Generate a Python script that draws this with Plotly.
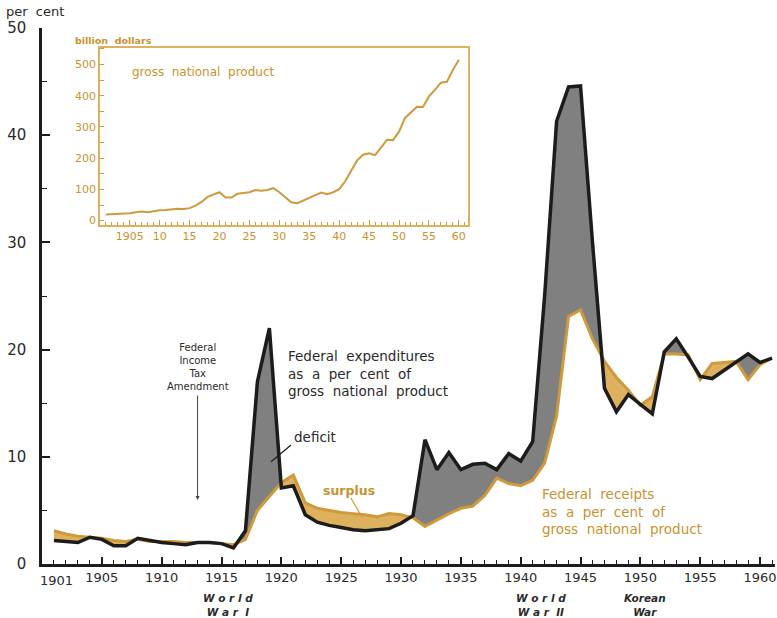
import plotly.graph_objects as go
import numpy as np

# ---------------- data ----------------
years = list(range(1901, 1962))
expenditures = [2.2, 2.1, 2.0, 2.5, 2.3, 1.7, 1.7, 2.4, 2.2, 2.0,
                1.9, 1.8, 2.0, 2.0, 1.9, 1.5, 3.1, 17.0, 22.0, 7.1,
                7.3, 4.6, 3.9, 3.6, 3.4, 3.2, 3.1, 3.2, 3.3, 3.8,
                4.5, 11.6, 8.8, 10.4, 8.8, 9.3, 9.4, 8.8, 10.3, 9.6,
                11.4, 25.0, 41.3, 44.5, 44.6, 30.0, 16.4, 14.2, 15.8, 14.9,
                14.0, 19.8, 21.0, 19.3, 17.5, 17.3, 18.1, 18.9, 19.6, 18.8,
                19.2]
receipts = [3.1, 2.8, 2.6, 2.5, 2.4, 2.2, 2.1, 2.3, 2.1, 2.1,
            2.1, 2.0, 2.0, 2.0, 1.9, 1.8, 2.3, 5.0, 6.3, 7.6,
            8.3, 5.7, 5.2, 5.0, 4.8, 4.7, 4.6, 4.4, 4.7, 4.6,
            4.3, 3.5, 4.1, 4.7, 5.2, 5.4, 6.4, 8.0, 7.5, 7.3,
            7.8, 9.4, 13.8, 23.1, 23.7, 21.0, 18.9, 17.4, 16.2, 14.8,
            15.6, 19.6, 19.6, 19.5, 17.2, 18.7, 18.8, 18.9, 17.2, 18.6,
            19.2]

gnp_years = list(range(1901, 1961))
gnp = [20, 21, 22, 22, 24, 27, 29, 27, 31, 33,
       34, 37, 38, 37, 40, 48, 60, 76, 84, 91,
       74, 74, 86, 88, 91, 98, 96, 98, 104, 91,
       76, 59, 56, 65, 73, 83, 90, 85, 91, 101,
       126, 160, 193, 211, 216, 210, 233, 259, 258, 285,
       329, 347, 365, 364, 398, 419, 442, 445, 483, 515]

main_tick_vals = [1905, 1910, 1915, 1920, 1925, 1930, 1935, 1940, 1945, 1950, 1955, 1960]
main_tick_text = [str(v) for v in main_tick_vals]
inset_tick_vals = main_tick_vals
inset_tick_text = ["1905", "10", "15", "20", "25", "30", "35", "40", "45", "50", "55", "60"]

# ---------------- styles ----------------
BLACK = "#1c1c1c"
GRAY = "#808080"
TAN_FILL = "#DDB15E"
TAN_LINE = "#CF9A3C"
TAN_TEXT = "#C8922E"
TEXT = "#2a2a2a"
FONT = "DejaVu Sans"

W, H = 777, 618
L, R, T, B = 42, 0, 28, 54
PW, PH = W - L - R, H - T - B


def px(x):
    return (x - L) / PW


def py(y):
    return (H - B - y) / PH


def split_at_crossings(x, a, b):
    xs, aa, bb = [x[0]], [a[0]], [b[0]]
    for i in range(len(x) - 1):
        d0 = a[i] - b[i]
        d1 = a[i + 1] - b[i + 1]
        if d0 * d1 < 0:
            t = d0 / (d0 - d1)
            xc = x[i] + t * (x[i + 1] - x[i])
            yc = a[i] + t * (a[i + 1] - a[i])
            xs.append(xc); aa.append(yc); bb.append(yc)
        xs.append(x[i + 1]); aa.append(a[i + 1]); bb.append(b[i + 1])
    return xs, np.array(aa), np.array(bb)


xs, ex, rc = split_at_crossings(years, expenditures, receipts)
top = np.maximum(ex, rc)

fig = go.Figure()
nol = dict(width=0)
# deficit (gray) between receipts and max
fig.add_trace(go.Scatter(x=xs, y=rc, mode="lines", line=nol, hoverinfo="skip", showlegend=False))
fig.add_trace(go.Scatter(x=xs, y=top, mode="lines", line=nol, fill="tonexty", fillcolor=GRAY,
                         hoverinfo="skip", showlegend=False))
# surplus (tan) between expenditures and max
fig.add_trace(go.Scatter(x=xs, y=ex, mode="lines", line=nol, hoverinfo="skip", showlegend=False))
fig.add_trace(go.Scatter(x=xs, y=top, mode="lines", line=nol, fill="tonexty", fillcolor=TAN_FILL,
                         hoverinfo="skip", showlegend=False))
# receipts line
fig.add_trace(go.Scatter(x=years, y=receipts, mode="lines", line=dict(color=TAN_LINE, width=3),
                         showlegend=False, name="receipts"))
# expenditures line
fig.add_trace(go.Scatter(x=years, y=expenditures, mode="lines", line=dict(color=BLACK, width=3.5),
                         showlegend=False, name="expenditures"))
# inset GNP
fig.add_trace(go.Scatter(x=gnp_years, y=gnp, mode="lines", xaxis="x2", yaxis="y2",
                         line=dict(color=TAN_LINE, width=2), showlegend=False, name="GNP"))

fig.update_layout(
    width=W, height=H,
    margin=dict(l=L, r=R, t=T, b=B),
    paper_bgcolor="white", plot_bgcolor="rgba(0,0,0,0)",
    font=dict(family=FONT, color=TEXT),
    showlegend=False,
    xaxis=dict(
        domain=[0, 1], range=[1900, 1961.25], showgrid=False, zeroline=False,
        showline=True, linecolor=BLACK, linewidth=2.5,
        tickmode="array", tickvals=main_tick_vals, ticktext=main_tick_text,
        ticks="inside", ticklen=7, tickwidth=2, tickcolor=BLACK,
        tickfont=dict(size=13, color=TEXT), ticklabeloverflow="allow",
        minor=dict(ticks="inside", ticklen=4, tickwidth=1.3, tickcolor=BLACK, tick0=1900, dtick=1),
    ),
    yaxis=dict(
        domain=[0, 1], range=[0, 50], showgrid=False, zeroline=False,
        showline=True, linecolor=BLACK, linewidth=2.5,
        tickmode="linear", tick0=0, dtick=10,
        ticks="inside", ticklen=8, tickwidth=2, tickcolor=BLACK,
        tickfont=dict(size=15, color=TEXT), ticklabelstandoff=10,
        minor=dict(ticks="inside", ticklen=5, tickwidth=1.3, tickcolor=BLACK, tick0=0, dtick=5),
    ),
    xaxis2=dict(
        domain=[px(100), px(469.3)], anchor="y2", range=[1900, 1961.55],
        showgrid=False, zeroline=False, showline=True, mirror=True,
        linecolor=TAN_FILL, linewidth=1.5,
        tickmode="array", tickvals=inset_tick_vals, ticktext=inset_tick_text,
        ticks="inside", ticklen=5, tickwidth=1.3, tickcolor=TAN_LINE,
        tickfont=dict(size=11, color=TAN_TEXT),
        minor=dict(ticks="inside", ticklen=3, tickwidth=1, tickcolor=TAN_LINE, tick0=1900, dtick=1),
    ),
    yaxis2=dict(
        domain=[py(225), py(47.7)], anchor="x2", range=[-14, 554],
        showgrid=False, zeroline=False, showline=True, mirror=True,
        linecolor=TAN_FILL, linewidth=1.5,
        tickmode="linear", tick0=0, dtick=100,
        ticks="inside", ticklen=4, tickwidth=1.3, tickcolor=TAN_LINE,
        tickfont=dict(size=11, color=TAN_TEXT),
        minor=dict(ticks="inside", ticklen=4, tickwidth=1, tickcolor=TAN_LINE, tick0=0, dtick=50),
    ),
)

ann = []


def text(x, y, s, size=13, color=TEXT, xanchor="left", yanchor="middle", align="left"):
    ann.append(dict(x=px(x), y=py(y), xref="paper", yref="paper", text=s, showarrow=False,
                    xanchor=xanchor, yanchor=yanchor, align=align,
                    font=dict(size=size, color=color, family=FONT)))


text(4, 11, "per  cent", size=13)
text(57, 580, "1901", size=13, xanchor="center")
text(73, 41, "<b>billion  dollars</b>", size=9.5, color=TAN_TEXT)
text(130, 72, "gross  national  product", size=12, color=TAN_TEXT)
text(198, 367, "Federal<br>Income<br>Tax<br>Amendment", size=10, xanchor="center", align="center")
text(287, 374, "Federal  expenditures<br>as  a  per  cent  of<br>gross  national  product", size=13.5)
text(293, 437, "deficit", size=13.5)
text(322, 490, "<b>surplus</b>", size=12.5, color=TAN_TEXT)
text(541, 511, "Federal  receipts<br>as  a  per  cent  of<br>gross  national  product", size=13.5,
     color=TAN_TEXT)
text(229, 605, "<b><i>W o r l d<br>W a r  I</i></b>", size=10.5, xanchor="center", align="center")
text(542, 605, "<b><i>W o r l d<br>W a r  II</i></b>", size=10.5, xanchor="center", align="center")
text(647, 605, "<b><i>Korean<br>War</i></b>", size=10.5, xanchor="center", align="center")

# arrow for the income tax amendment
ann.append(dict(x=px(198), y=py(500), xref="paper", yref="paper", text="", showarrow=True,
                ax=0, ay=-106, arrowhead=2, arrowsize=0.8, arrowwidth=1, arrowcolor="#444"))
fig.update_layout(annotations=ann)

fig.update_layout(shapes=[
    dict(type="line", xref="paper", yref="paper", x0=px(291.7), y0=py(445), x1=px(271.7), y1=py(461.7),
         line=dict(color=BLACK, width=1.2)),
    dict(type="line", xref="paper", yref="paper", x0=px(351.7), y0=py(498), x1=px(363.3), y1=py(518),
         line=dict(color=TAN_LINE, width=1.2)),
])

fig.write_html("out.html", config={"displayModeBar": False},
               post_script="document.body.style.margin='0';document.body.style.overflow='hidden';")
